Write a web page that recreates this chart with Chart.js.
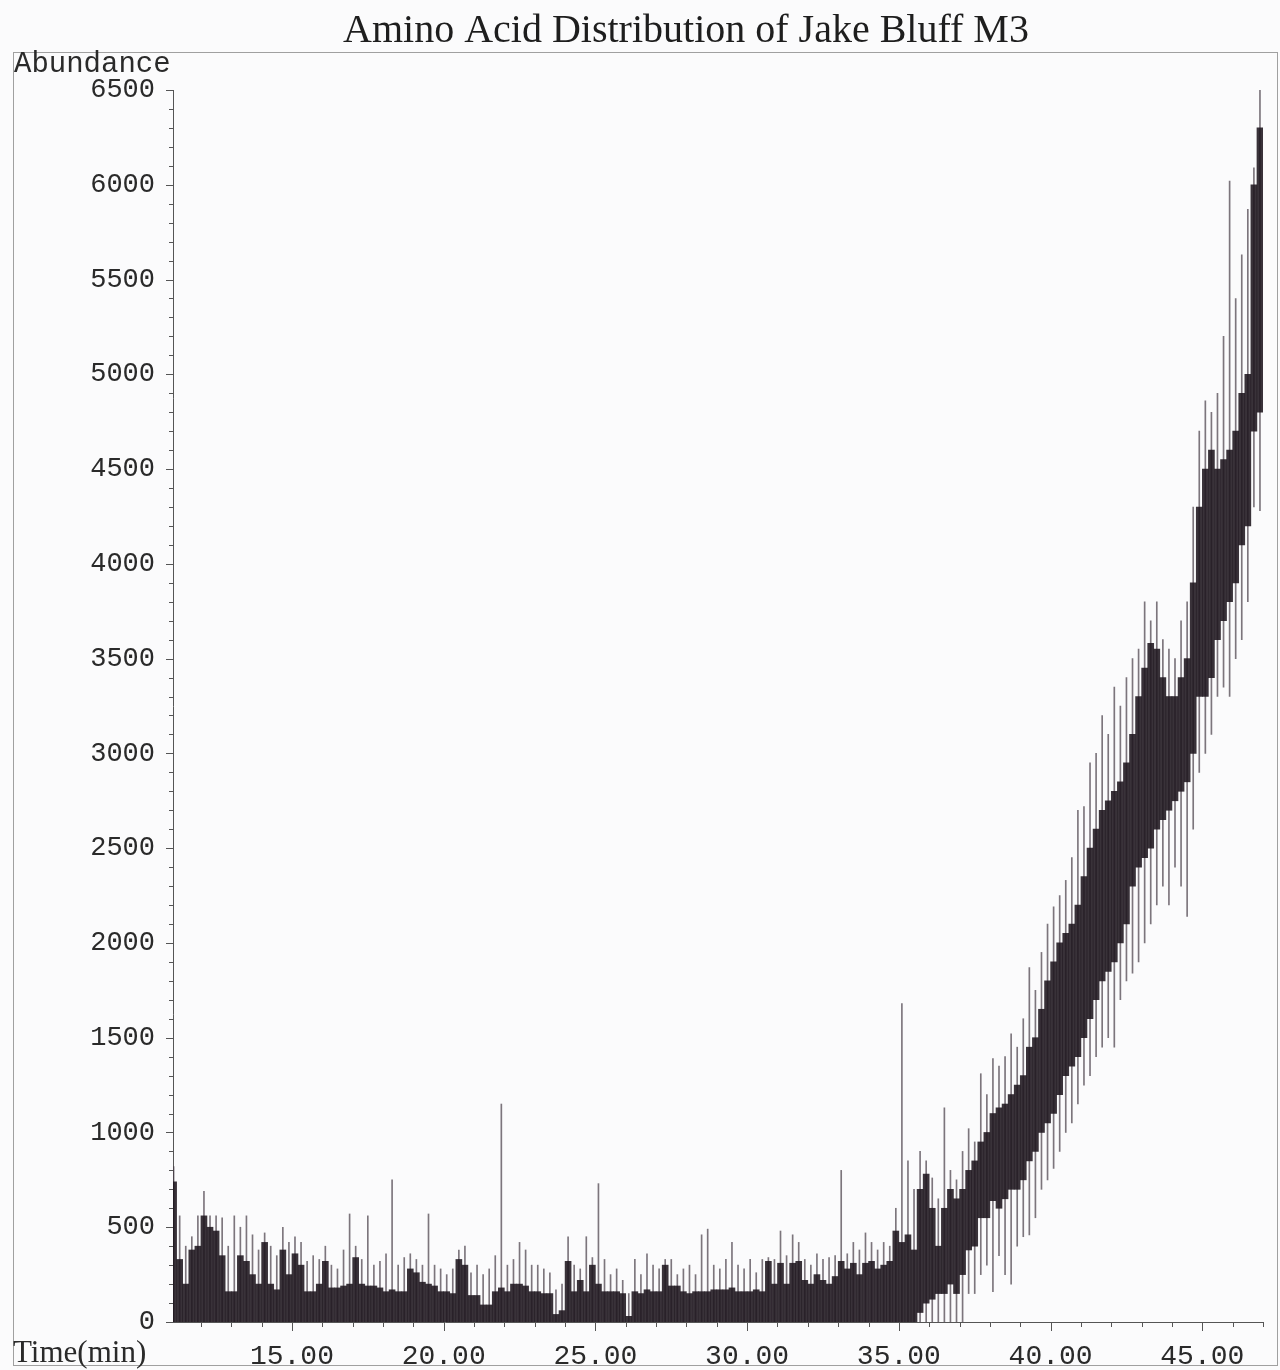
<!DOCTYPE html>
<html>
<head>
<meta charset="utf-8">
<title>Amino Acid Distribution of Jake Bluff M3</title>
<script src="https://cdn.jsdelivr.net/npm/chart.js@4.4.1/dist/chart.umd.min.js"></script>
<style>
  html, body { margin: 0; padding: 0; background: #fbfbfc; }
  #wrap { position: relative; width: 1280px; height: 1370px; }
</style>
</head>
<body>
<div id="wrap"><canvas id="tic" width="1280" height="1370"></canvas></div>
<script>
const chartTitle = "Amino Acid Distribution of Jake Bluff M3";
const yAxisName = "Abundance";
const xAxisName = "Time(min)";

// scans are binned every 0.2 min, first bin at 11.1 min
const scanStart = 11.1;
const scanStep = 0.2;

// flat part, 11.1 - 34.9 min: dark band top and spike top
const baseCore = [
  740, 330, 200, 380, 400, 560, 500, 480, 350, 160,
  160, 350, 320, 250, 200, 420, 200, 170, 380, 250,
  360, 300, 160, 160, 200, 320, 180, 180, 190, 200,
  340, 200, 190, 190, 180, 160, 170, 160, 160, 280,
  260, 210, 200, 190, 160, 160, 150, 330, 300, 140,
  140, 90, 90, 160, 180, 160, 200, 200, 190, 160,
  160, 150, 150, 40, 60, 320, 160, 220, 160, 300,
  200, 160, 160, 160, 150, 30, 160, 150, 170, 160,
  160, 300, 190, 190, 160, 150, 160, 160, 160, 170,
  170, 170, 180, 160, 160, 160, 170, 160, 320, 200,
  310, 200, 310, 320, 220, 200, 250, 220, 200, 240,
  320, 280, 310, 250, 310, 320, 280, 300, 320, 480
];
const baseSpike = [
  820, 560, 400, 450, 560, 690, 560, 560, 550, 400,
  560, 500, 560, 460, 380, 470, 400, 350, 500, 420,
  450, 420, 320, 350, 330, 400, 300, 280, 380, 570,
  400, 330, 560, 300, 320, 360, 750, 300, 340, 360,
  330, 300, 570, 300, 280, 250, 280, 380, 400, 260,
  300, 250, 280, 350, 1150, 300, 330, 420, 380, 300,
  300, 280, 260, 170, 200, 450, 300, 280, 450, 340,
  730, 330, 250, 280, 220, 150, 330, 250, 360, 300,
  280, 330, 330, 250, 280, 300, 250, 460, 490, 300,
  280, 330, 420, 300, 280, 330, 260, 330, 340, 330,
  480, 350, 460, 420, 330, 300, 360, 330, 340, 350,
  800, 360, 420, 380, 470, 420, 380, 420, 400, 600
];

// rising part, 35.1 - 46.9 min
const riseCoreLo = [
  0, 0, 0, 50, 100, 120, 150, 150, 200, 150,
  250, 380, 400, 550, 550, 640, 600, 650, 700, 700,
  750, 850, 900, 1000, 1050, 1100, 1200, 1300, 1350, 1400,
  1500, 1600, 1700, 1800, 1850, 1900, 2000, 2100, 2300, 2400,
  2450, 2500, 2600, 2650, 2700, 2750, 2800, 2850, 3000, 3300,
  3300, 3400, 3600, 3700, 3800, 3900, 4100, 4200, 4700, 4800
];
const riseCoreHi = [
  420, 460, 380, 700, 780, 600, 400, 600, 700, 650,
  700, 800, 850, 950, 1000, 1100, 1130, 1150, 1200, 1250,
  1300, 1450, 1500, 1650, 1800, 1900, 2000, 2050, 2100, 2200,
  2350, 2500, 2600, 2700, 2750, 2800, 2850, 2950, 3100, 3300,
  3450, 3580, 3550, 3400, 3300, 3300, 3400, 3500, 3900, 4300,
  4500, 4600, 4500, 4550, 4600, 4700, 4900, 5000, 6000, 6300
];
const riseSpikeLo = [
  0, 0, 0, 0, 0, 0, 0, 0, 0, 0,
  0, 150, 150, 250, 300, 160, 350, 250, 200, 400,
  450, 460, 550, 700, 750, 810, 900, 1000, 1050, 1150,
  1250, 1300, 1400, 1450, 1500, 1450, 1700, 1800, 1840, 1900,
  2000, 2100, 2200, 2300, 2200, 2400, 2300, 2140, 2600, 2900,
  3000, 3100, 3300, 3350, 3300, 3500, 3600, 3800, 4300, 4280
];
const riseSpikeHi = [
  1680, 850, 700, 900, 850, 760, 650, 1130, 800, 750,
  900, 1020, 950, 1310, 1200, 1390, 1350, 1400, 1520, 1450,
  1600, 1870, 1750, 1950, 2100, 2190, 2250, 2330, 2450, 2700,
  2720, 2950, 3000, 3200, 3100, 3350, 3250, 3400, 3500, 3550,
  3800, 3700, 3800, 3600, 3550, 3500, 3700, 3800, 4300, 4700,
  4860, 4800, 4900, 5200, 6020, 5400, 5630, 5870, 6090, 6510
];

const xTicks = [15, 20, 25, 30, 35, 40, 45];
const yTicks = [0, 500, 1000, 1500, 2000, 2500, 3000, 3500, 4000, 4500, 5000, 5500, 6000, 6500];

const baseTimes = baseCore.map((_, i) => +(scanStart + i * scanStep).toFixed(1));
const riseTimes = riseCoreHi.map((_, i) => +(scanStart + (baseCore.length + i) * scanStep).toFixed(1));

const monoFont = "'Liberation Mono', 'Courier New', monospace";
const serifFont = "'Liberation Serif', 'Times New Roman', serif";
const inkCore = "rgba(30, 22, 30, 0.88)";
const inkSpike = "rgba(70, 60, 70, 0.7)";

// frame, titles and the tick marks (major + minor) drawn by hand
const decorPlugin = {
  id: "decor",
  afterDraw(chart) {
    const ctx = chart.ctx;
    const xs = chart.scales.x;
    const ys = chart.scales.y;
    const area = chart.chartArea;
    ctx.save();
    ctx.strokeStyle = "#a0a0a0";
    ctx.lineWidth = 1;
    ctx.strokeRect(13.5, 52.5, 1264, 1313);

    ctx.fillStyle = "#1e1e1e";
    ctx.font = "40px " + serifFont;
    ctx.textAlign = "center";
    ctx.textBaseline = "alphabetic";
    ctx.fillText(chartTitle, 686, 42);

    ctx.fillStyle = "#2a2a2a";
    ctx.textAlign = "left";
    ctx.font = "29px " + monoFont;
    ctx.fillText(yAxisName, 14, 72);
    ctx.font = "31px " + serifFont;
    ctx.fillText(xAxisName, 13, 1362);

    ctx.strokeStyle = "#555";
    ctx.beginPath();
    for (let v = 0; v <= 6500; v += 100) {
      const y = Math.round(ys.getPixelForValue(v)) + 0.5;
      const len = v % 500 === 0 ? 7 : 4;
      ctx.moveTo(area.left - len, y);
      ctx.lineTo(area.left, y);
    }
    for (let v = 12; v <= 47; v += 1) {
      const x = Math.round(xs.getPixelForValue(v)) + 0.5;
      const len = v % 5 === 0 ? 9 : 5;
      ctx.moveTo(x, area.bottom);
      ctx.lineTo(x, area.bottom + len);
    }
    ctx.stroke();
    ctx.restore();
  }
};

new Chart(document.getElementById("tic").getContext("2d"), {
  type: "bar",
  data: {
    datasets: [
      {
        label: "flat band",
        data: baseTimes.map((t, i) => ({ x: t, y: [0, baseCore[i]] })),
        backgroundColor: inkCore,
        barThickness: 6,
        grouped: false,
      },
      {
        label: "rising band",
        data: riseTimes.map((t, i) => ({ x: t, y: [riseCoreLo[i], riseCoreHi[i]] })),
        backgroundColor: inkCore,
        barThickness: 6,
        grouped: false,
      },
      {
        label: "flat spikes",
        data: baseTimes.map((t, i) => ({ x: t, y: [0, baseSpike[i]] })),
        backgroundColor: inkSpike,
        barThickness: 1,
        grouped: false,
      },
      {
        label: "rising spikes",
        data: riseTimes.map((t, i) => ({ x: t, y: [riseSpikeLo[i], riseSpikeHi[i]] })),
        backgroundColor: inkSpike,
        barThickness: 1,
        grouped: false,
      },
    ],
  },
  options: {
    responsive: false,
    animation: false,
    devicePixelRatio: 1,
    layout: { padding: { left: 0, right: 17, top: 90, bottom: 0 } },
    plugins: {
      legend: { display: false },
      tooltip: { enabled: false },
    },
    scales: {
      x: {
        type: "linear",
        min: 11.08,
        max: 47.0,
        offset: false,
        afterFit: (s) => { s.height = 48; },
        afterBuildTicks: (s) => { s.ticks = xTicks.map((v) => ({ value: v })); },
        grid: { display: false, drawTicks: false },
        border: { display: true, color: "#555", width: 1 },
        ticks: {
          padding: 18,
          color: "#2a2a2a",
          font: { family: monoFont, size: 28 },
          maxRotation: 0,
          autoSkip: false,
          callback: (v) => Number(v).toFixed(2),
        },
      },
      y: {
        min: 0,
        max: 6500,
        afterFit: (s) => { s.width = 173; },
        afterBuildTicks: (s) => { s.ticks = yTicks.map((v) => ({ value: v })); },
        grid: { display: false, drawTicks: false },
        border: { display: true, color: "#555", width: 1 },
        ticks: {
          padding: 18,
          color: "#2a2a2a",
          font: { family: monoFont, size: 27 },
          autoSkip: false,
          callback: (v) => String(v),
        },
      },
    },
  },
  plugins: [decorPlugin],
});
</script>
</body>
</html>
